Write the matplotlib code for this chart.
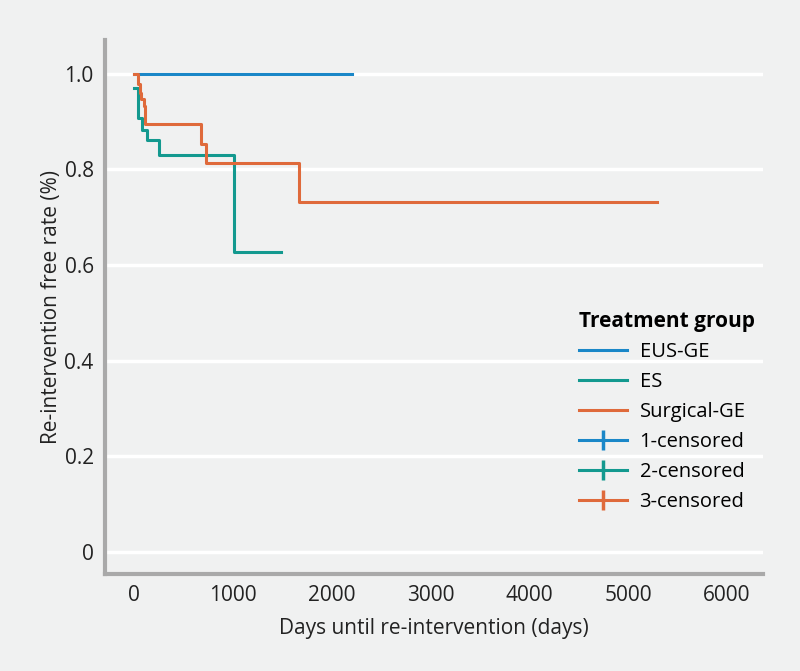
import matplotlib
matplotlib.use("Agg")
import matplotlib.pyplot as plt
from matplotlib.lines import Line2D

# Kaplan-Meier step curves (days, survival)
eus_days = [0, 2200]
eus_surv = [1.0, 1.0]

es_days = [0, 33, 78, 128, 247, 1007, 1490]
es_surv = [0.97, 0.908, 0.882, 0.862, 0.831, 0.628, 0.628]

sg_days = [0, 40, 54, 68, 95, 112, 670, 730, 1667, 5294]
sg_surv = [1.0, 0.978, 0.96, 0.947, 0.933, 0.895, 0.852, 0.813, 0.731, 0.731]

GROUPS = ["EUS-GE", "ES", "Surgical-GE"]
CENSOR_LABELS = ["1-censored", "2-censored", "3-censored"]
COLORS = ["#1a87c8", "#13998f", "#df6a3b"]

YTICKS = [0, 0.2, 0.4, 0.6, 0.8, 1.0]
YTICKLABELS = ["0", "0.2", "0.4", "0.6", "0.8", "1.0"]
XTICKS = [0, 1000, 2000, 3000, 4000, 5000, 6000]

BG = "#f0f1f1"
plt.rcParams["font.family"] = ["Open Sans", "DejaVu Sans"]

fig = plt.figure(figsize=(8, 6.71), dpi=100, facecolor=BG)
ax = fig.add_axes([0.131, 0.145, 0.823, 0.795])
ax.set_facecolor(BG)

for y in YTICKS:
    ax.axhline(y, color="white", lw=2.5, zorder=0)

for (d, s), c in zip([(eus_days, eus_surv), (es_days, es_surv), (sg_days, sg_surv)], COLORS):
    ax.step(d, s, where="post", color=c, lw=2.2, zorder=3)

ax.set_xlim(-300, 6370)
ax.set_ylim(-0.046, 1.07)
ax.set_yticks(YTICKS)
ax.set_yticklabels(YTICKLABELS)
ax.set_xticks(XTICKS)
ax.tick_params(length=0, labelsize=15, colors="#222222", pad=8)

for side in ["top", "right"]:
    ax.spines[side].set_visible(False)
for side in ["left", "bottom"]:
    ax.spines[side].set_color("#a9a9a9")
    ax.spines[side].set_linewidth(3)

ax.set_xlabel("Days until re-intervention (days)", fontsize=15, color="#222222", labelpad=9)
ax.set_ylabel("Re-intervention free rate (%)", fontsize=15, color="#222222", labelpad=2)

handles = [Line2D([0], [0], color=c, lw=2.2) for c in COLORS]
handles += [Line2D([0], [0], color=c, lw=2.2, marker="|", markersize=14, markeredgewidth=2.5)
            for c in COLORS]
leg = ax.legend(handles, GROUPS + CENSOR_LABELS, title="Treatment group",
                loc="lower right", bbox_to_anchor=(1.0, 0.1), frameon=False,
                fontsize=14.5, handlelength=2.4, labelspacing=0.5, handletextpad=0.6,
                borderaxespad=0.0)
leg.get_title().set_fontweight("bold")
leg.get_title().set_fontsize(15)
leg._legend_box.align = "left"

fig.savefig("out.png", dpi=100, facecolor=BG)
